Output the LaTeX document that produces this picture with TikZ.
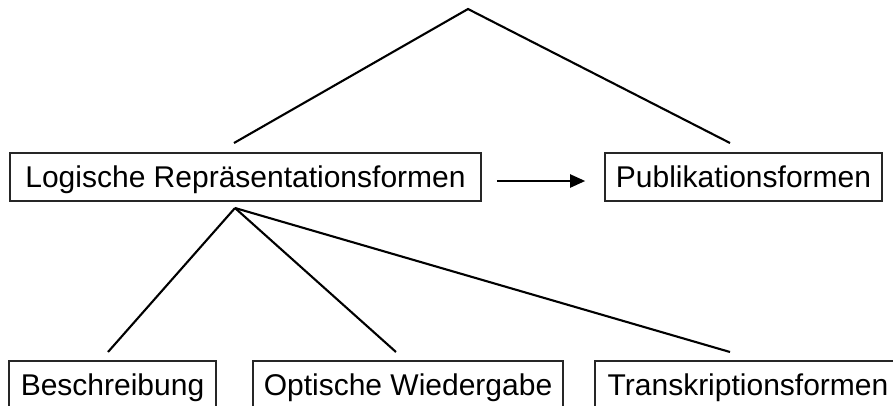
\documentclass[tikz,border=0pt]{standalone}
\usepackage{fontspec}
\setmainfont{Liberation Sans}
\usetikzlibrary{arrows.meta}
\begin{document}
\begin{tikzpicture}[x=1pt,y=-1pt,
  box/.style={draw=black!85, line width=1.6pt, rectangle, inner sep=0pt,
    minimum height=48pt, text height=21.6pt, text depth=0pt,
    font=\fontsize{30}{36}\selectfont},
  conn/.style={line width=2.1pt, black}]
\clip (0,0) rectangle (893,405);
\fill[white] (0,0) rectangle (893,405);
\node[box, minimum width=471pt] (L) at (245.5,177) {Logische Repräsentationsformen};
\node[box, minimum width=277pt] (P) at (743.5,177) {Publikationsformen};
\node[box, minimum width=207pt] (B) at (112.5,385) {Beschreibung};
\node[box, minimum width=310pt] (O) at (408,385) {Optische Wiedergabe};
\node[box, minimum width=306pt] (T) at (748,385) {Transkriptionsformen};
\coordinate (top) at (468,9);
\coordinate (tl) at (234,143);
\coordinate (tr) at (730,143);
\coordinate (la) at (235,208);
\coordinate (bb) at (108,352);
\coordinate (bo) at (396,352);
\coordinate (bt) at (730,352);
\draw[conn, line join=miter] (tl) -- (top) -- (tr);
\draw[conn] (la) -- (bb);
\draw[conn] (la) -- (bo);
\draw[conn] (la) -- (bt);
\draw[conn, shorten <=15pt, shorten >=19pt, -{Triangle[length=15pt,width=13pt]}]
  ([yshift=-4pt]L.east) -- ([yshift=-4pt]P.west);
\end{tikzpicture}
\end{document}
